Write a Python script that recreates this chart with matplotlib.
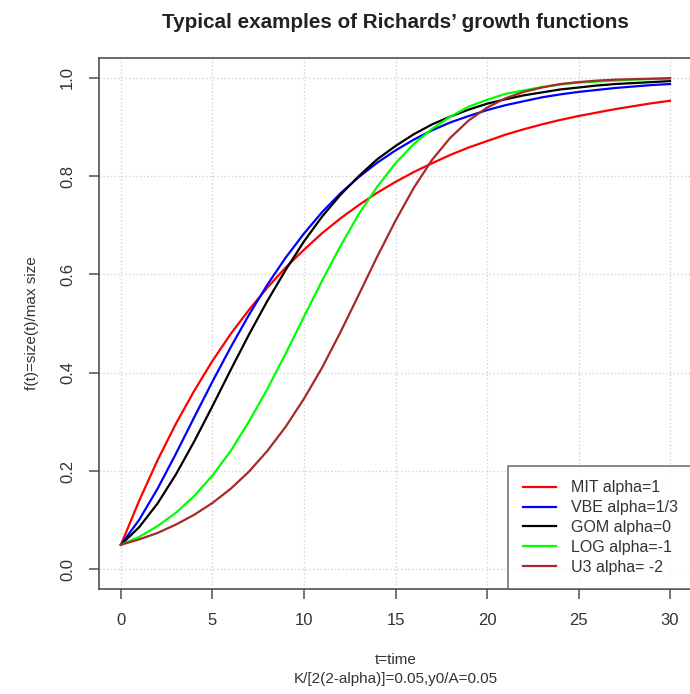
import matplotlib
matplotlib.use("Agg")
import matplotlib.pyplot as plt

plt.rcParams['font.family'] = ['Liberation Sans', 'DejaVu Sans']

t = list(range(0, 31))

mit = [0.050, 0.140, 0.222, 0.296, 0.363, 0.424, 0.479, 0.528, 0.573, 0.614,
       0.650, 0.684, 0.714, 0.741, 0.766, 0.788, 0.808, 0.826, 0.843, 0.858,
       0.871, 0.884, 0.895, 0.905, 0.914, 0.922, 0.929, 0.936, 0.942, 0.948, 0.953]
vbe = [0.050, 0.101, 0.164, 0.235, 0.309, 0.382, 0.452, 0.518, 0.579, 0.634,
       0.683, 0.727, 0.765, 0.798, 0.827, 0.852, 0.874, 0.893, 0.909, 0.922,
       0.934, 0.944, 0.952, 0.960, 0.966, 0.971, 0.975, 0.979, 0.982, 0.985, 0.987]
gom = [0.050, 0.086, 0.134, 0.193, 0.260, 0.332, 0.406, 0.478, 0.546, 0.609,
       0.667, 0.718, 0.762, 0.800, 0.834, 0.861, 0.885, 0.905, 0.921, 0.935,
       0.947, 0.956, 0.964, 0.970, 0.976, 0.980, 0.984, 0.987, 0.989, 0.991, 0.993]
log = [0.050, 0.066, 0.088, 0.115, 0.149, 0.191, 0.241, 0.301, 0.367, 0.439,
       0.514, 0.588, 0.658, 0.723, 0.778, 0.826, 0.865, 0.896, 0.921, 0.941,
       0.955, 0.967, 0.974, 0.981, 0.986, 0.990, 0.992, 0.994, 0.996, 0.997, 0.998]
u3 = [0.050, 0.061, 0.074, 0.091, 0.111, 0.135, 0.164, 0.199, 0.241, 0.290,
      0.347, 0.411, 0.483, 0.559, 0.636, 0.709, 0.776, 0.833, 0.878, 0.913,
      0.939, 0.958, 0.971, 0.980, 0.987, 0.991, 0.994, 0.996, 0.997, 0.998, 0.999]

series = [mit, vbe, gom, log, u3]
labels = ["MIT alpha=1", "VBE alpha=1/3", "GOM alpha=0", "LOG alpha=-1", "U3 alpha= -2"]
colors = ["#FF0000", "#0000FF", "#000000", "#00FF00", "#A52A2A"]

xticks = [0, 5, 10, 15, 20, 25, 30]
yticks = [0.0, 0.2, 0.4, 0.6, 0.8, 1.0]

W, H = 690, 694
fig = plt.figure(figsize=(W / 100, H / 100), dpi=100)
left, right, top, bottom = 99, 692, 58, 589
ax = fig.add_axes([left / W, 1 - bottom / H, (right - left) / W, (bottom - top) / H])

ax.set_xlim(-1.2, 31.2)
ax.set_ylim(-0.04, 1.04)
ax.set_xticks(xticks)
ax.set_yticks(yticks)
ax.set_xticklabels([str(v) for v in xticks])
ax.set_yticklabels([f"{v:.1f}" for v in yticks], rotation=90, va='center')
ax.grid(True, color='#D3D3D3', linestyle=':', linewidth=1.0)
ax.set_axisbelow(True)

for y, lab, c in zip(series, labels, colors):
    ax.plot(t, y, color=c, linewidth=1.6, label=lab)

for s in ax.spines.values():
    s.set_color('#505050')
    s.set_linewidth(1.2)
ax.tick_params(axis='both', direction='out', length=7.2, width=1.1, color='#505050',
               labelsize=12, labelcolor='#333333')
ax.tick_params(axis='x', pad=10)
ax.tick_params(axis='y', pad=10)

leg = ax.legend(loc='lower right', fontsize=11.5, frameon=True, fancybox=False,
                borderaxespad=0, handlelength=2.1, handletextpad=0.9,
                labelspacing=0.3, borderpad=0.9)
leg.get_frame().set_edgecolor('#505050')
leg.get_frame().set_linewidth(1.2)
for txt in leg.get_texts():
    txt.set_color('#333333')

cx = (left + right) / 2 / W
fig.text(cx, 1 - 22 / H, "Typical examples of Richards\u2019 growth functions",
         ha='center', va='center', fontsize=14.9, fontweight='bold', color='#222222')
fig.text(cx, 1 - 660 / H, "t=time", ha='center', va='center', fontsize=11, color='#333333')
fig.text(cx, 1 - 679 / H, "K/[2(2-alpha)]=0.05,y0/A=0.05", ha='center', va='center',
         fontsize=11, color='#333333')
fig.text(32 / W, 1 - ((top + bottom) / 2) / H, "f(t)=size(t)/max size", rotation=90,
         ha='center', va='center', fontsize=11, color='#333333')

fig.savefig("out.png", dpi=100)
